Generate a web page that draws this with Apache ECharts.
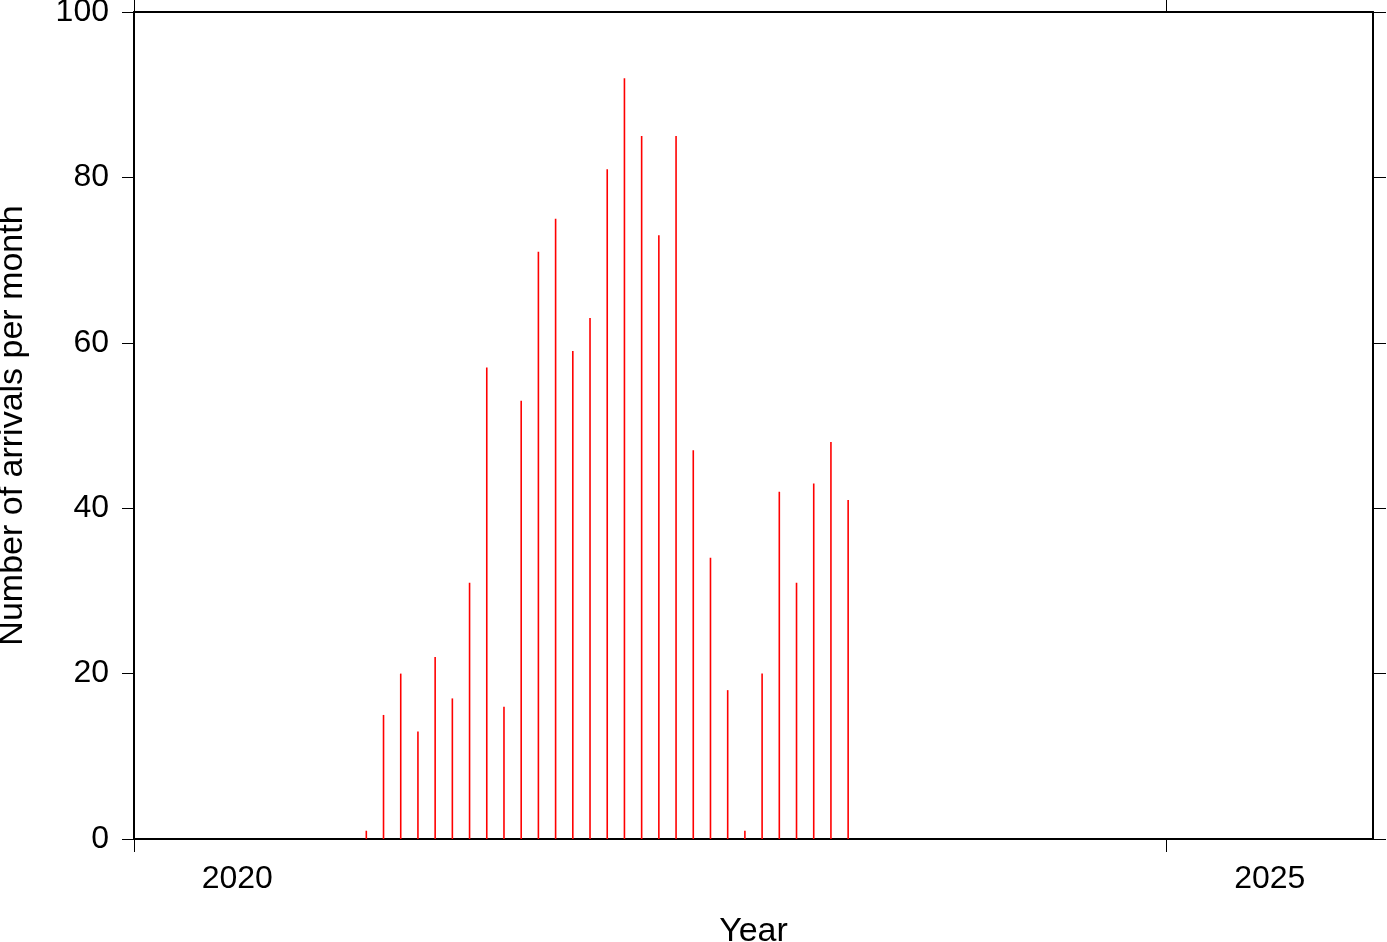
<!DOCTYPE html>
<html>
<head>
<meta charset="utf-8">
<script src="https://cdn.jsdelivr.net/npm/echarts@6/dist/echarts.min.js"></script>
<style>html,body{margin:0;padding:0;background:#fff}#c{width:1387px;height:942px}</style>
</head>
<body>
<div id="c"></div>
<script>
// Monthly arrivals, Feb 2021 .. Jun 2023
const months = ['2021-02','2021-03','2021-04','2021-05','2021-06','2021-07','2021-08','2021-09','2021-10','2021-11','2021-12',
  '2022-01','2022-02','2022-03','2022-04','2022-05','2022-06','2022-07','2022-08','2022-09','2022-10','2022-11','2022-12',
  '2023-01','2023-02','2023-03','2023-04','2023-05','2023-06'];
const arrivals = [1,15,20,13,22,17,31,57,16,53,71,75,59,63,81,92,85,73,85,47,34,18,1,20,42,31,43,48,41];
const yearTicks = [2020, 2025];
const yTicks = [0, 20, 40, 60, 80, 100];

const toYear = s => { const [y, m] = s.split('-').map(Number); return y + (m - 0.5) / 12; };
const data = months.map((m, i) => [toYear(m), arrivals[i]]);

const FONT = 'Liberation Sans';
const chart = echarts.init(document.getElementById('c'), null, {renderer: 'canvas'});
chart.setOption({
  animation: false,
  backgroundColor: '#fff',
  textStyle: {fontFamily: FONT, color: '#000'},
  grid: {left: 134, right: 14, top: 12, bottom: 103, containLabel: false, outerBoundsMode: 'none'},
  xAxis: [{
    type: 'value', min: 2020, max: 2026, position: 'bottom',
    axisLine: {show: true, onZero: false, lineStyle: {color: '#000', width: 2}},
    axisTick: {show: true, customValues: yearTicks, length: 13, lineStyle: {color: '#000', width: 1}},
    axisLabel: {show: true, customValues: yearTicks.map(v => v + 0.5), formatter: v => String(Math.floor(v)),
      fontFamily: FONT, fontSize: 32, color: '#000', margin: 24},
    splitLine: {show: false},
    name: 'Year', nameLocation: 'middle', nameGap: 76,
    nameTextStyle: {fontFamily: FONT, fontSize: 34, color: '#000'}
  }, {
    type: 'value', min: 2020, max: 2026, position: 'top',
    axisLine: {show: true, onZero: false, lineStyle: {color: '#000', width: 2}},
    axisTick: {show: true, customValues: yearTicks, length: 12, lineStyle: {color: '#000', width: 1}},
    axisLabel: {show: false}, splitLine: {show: false}
  }],
  yAxis: [{
    type: 'value', min: 0, max: 100, interval: 20, position: 'left',
    axisLine: {show: true, onZero: false, lineStyle: {color: '#000', width: 2}},
    axisTick: {show: true, customValues: yTicks, length: 12, lineStyle: {color: '#000', width: 1}},
    axisLabel: {show: true, customValues: yTicks, fontFamily: FONT, fontSize: 32, color: '#000', margin: 25},
    splitLine: {show: false},
    name: 'Number of arrivals per month', nameLocation: 'middle', nameGap: 104,
    nameTextStyle: {fontFamily: FONT, fontSize: 34, color: '#000'}
  }, {
    type: 'value', min: 0, max: 100, interval: 20, position: 'right',
    axisLine: {show: true, onZero: false, lineStyle: {color: '#000', width: 2}},
    axisTick: {show: true, customValues: yTicks, length: 13, lineStyle: {color: '#000', width: 1}},
    axisLabel: {show: false}, splitLine: {show: false}
  }],
  series: [{
    type: 'bar', xAxisIndex: 0, yAxisIndex: 0,
    data: data, barWidth: 1.6,
    itemStyle: {color: '#ff0000'}
  }]
});
</script>
</body>
</html>
